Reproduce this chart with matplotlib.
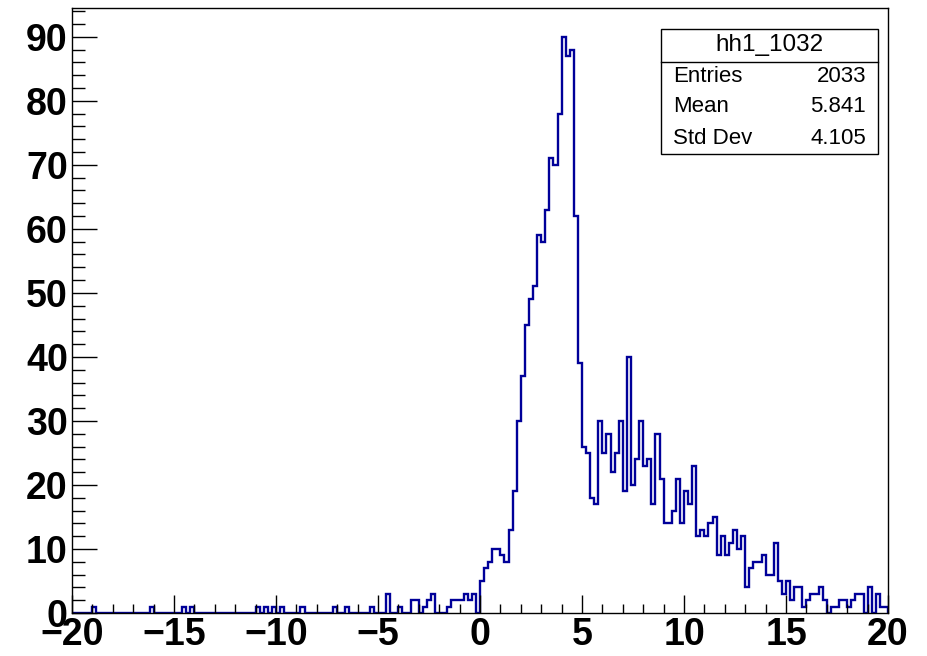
import numpy as np
import matplotlib
matplotlib.use("Agg")
import matplotlib.pyplot as plt
from matplotlib.ticker import MultipleLocator

# --- dane histogramu (200 binow od -20 do 20) ---
x_min = -20.0
x_max = 20.0
n_bins = 200

# biny 0..99  (x od -20 do 0)
zliczenia_lewe = [
    0, 0, 0, 0, 0, 1, 0, 0, 0, 0,
    0, 0, 0, 0, 0, 0, 0, 0, 0, 1,
    0, 0, 0, 0, 0, 0, 0, 1, 0, 1,
    0, 0, 0, 0, 0, 0, 0, 0, 0, 0,
    0, 0, 0, 0, 0, 1, 0, 1, 0, 1,
    0, 1, 0, 0, 0, 0, 1, 0, 0, 0,
    0, 0, 0, 0, 1, 0, 0, 1, 0, 0,
    0, 0, 0, 1, 0, 0, 0, 3, 0, 0,
    1, 0, 0, 2, 2, 0, 1, 2, 3, 0,
    0, 0, 1, 2, 2, 2, 3, 2, 3, 0,
]
# biny 100..199 (x od 0 do 20)
zliczenia_prawe = [
    5, 7, 8, 10, 10, 9, 8, 13, 19, 30,
    37, 45, 49, 51, 59, 58, 63, 71, 70, 78,
    90, 87, 88, 62, 39, 26, 25, 18, 17, 30,
    25, 28, 22, 25, 30, 19, 40, 20, 24, 30,
    23, 24, 17, 28, 21, 14, 14, 16, 21, 14,
    19, 17, 23, 12, 13, 12, 14, 15, 9, 12,
    9, 11, 13, 10, 12, 4, 7, 8, 8, 9,
    6, 6, 11, 5, 3, 5, 2, 4, 4, 1,
    2, 3, 3, 4, 2, 0, 1, 1, 2, 2,
    1, 2, 3, 3, 0, 4, 0, 3, 1, 1,
]
zliczenia = zliczenia_lewe + zliczenia_prawe

nazwa = "hh1_1032"
statystyki = [("Entries", "2033"), ("Mean", "5.841"), ("Std Dev", "4.105")]

# --- wykres ---
plt.rcParams["font.family"] = ["Liberation Sans", "DejaVu Sans"]

fig = plt.figure(figsize=(9.27, 6.56), dpi=100)
ax = fig.add_axes([72 / 927, 43 / 656, 816 / 927, 605 / 656])

krawedzie = np.linspace(x_min, x_max, n_bins + 1)
ax.stairs(zliczenia, krawedzie, color="#000099", linewidth=1.7, baseline=0)

ax.set_xlim(x_min, x_max)
ax.set_ylim(0, max(zliczenia) * 1.05)

ax.xaxis.set_major_locator(MultipleLocator(5))
ax.xaxis.set_minor_locator(MultipleLocator(1))
ax.yaxis.set_major_locator(MultipleLocator(10))
ax.yaxis.set_minor_locator(MultipleLocator(2))

ax.tick_params(which="both", direction="in", color="black", width=1)
ax.tick_params(axis="x", which="major", length=13, pad=3)
ax.tick_params(axis="x", which="minor", length=6.5)
ax.tick_params(axis="y", which="major", length=18, pad=3)
ax.tick_params(axis="y", which="minor", length=9)
for lab in ax.get_xticklabels() + ax.get_yticklabels():
    lab.set_fontsize(27)
    lab.set_fontweight("bold")

for s in ax.spines.values():
    s.set_linewidth(1)
    s.set_zorder(5)

# --- ramka ze statystykami ---
bx0, bx1 = 661 / 927, 878 / 927
by_top, by_sep, by_bot = 1 - 29 / 656, 1 - 62 / 656, 1 - 154 / 656
fig.patches.append(plt.Rectangle((bx0, by_bot), bx1 - bx0, by_top - by_bot,
                                 transform=fig.transFigure, fill=True,
                                 facecolor="white", edgecolor="black", linewidth=1, zorder=10))
fig.lines.append(plt.Line2D([bx0, bx1], [by_sep, by_sep], transform=fig.transFigure,
                            color="black", linewidth=1, zorder=11))
fig.text((bx0 + bx1) / 2, (by_top + by_sep) / 2, nazwa, ha="center", va="center",
         fontsize=17.5, zorder=12)
wiersze_y = [76, 107, 138]
for (etykieta, wartosc), yy in zip(statystyki, wiersze_y):
    fig.text(bx0 + 12 / 927, 1 - yy / 656, etykieta, ha="left", va="center", fontsize=16, zorder=12)
    fig.text(bx1 - 12 / 927, 1 - yy / 656, wartosc, ha="right", va="center", fontsize=16, zorder=12)

fig.savefig("out.png", dpi=100)
